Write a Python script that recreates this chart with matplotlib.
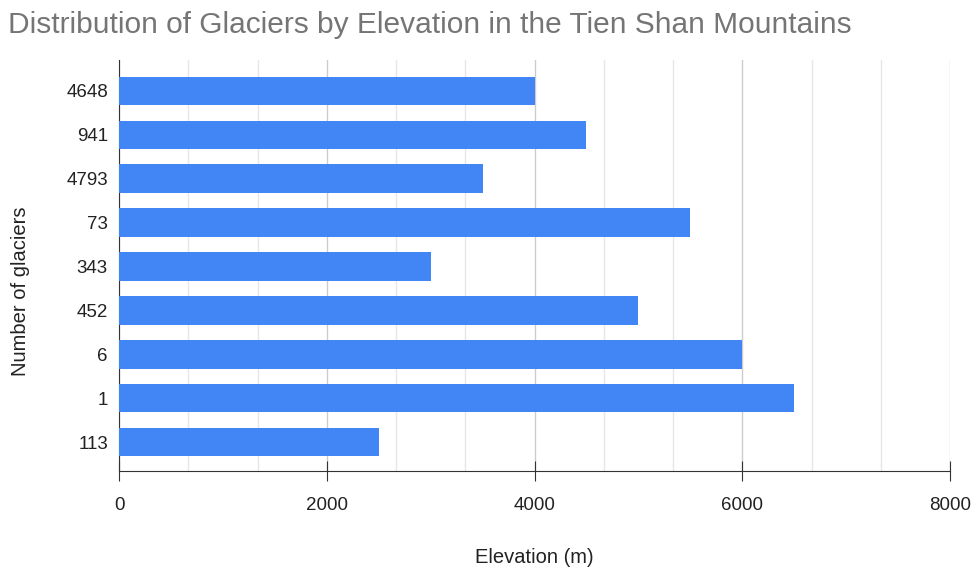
import numpy as np
import matplotlib.pyplot as plt
from matplotlib.ticker import MultipleLocator

plt.rcParams['font.family'] = ['Liberation Sans', 'DejaVu Sans']

glaciers = ["4648", "941", "4793", "73", "343", "452", "6", "1", "113"]
elevation = [4000, 4500, 3500, 5500, 3000, 5000, 6000, 6500, 2500]

fig = plt.figure(figsize=(9.74, 5.68), dpi=100)
ax = fig.add_axes([0.1222, 0.1708, 0.8532, 0.7232])

y = np.arange(len(glaciers))
ax.barh(y, elevation, height=0.65, color="#4285F4", zorder=3)

ax.set_xlim(0, 8000)
ax.set_ylim(len(glaciers) - 1 + 0.66, -0.70)
ax.set_yticks(y)
ax.set_yticklabels(glaciers)

ax.xaxis.set_major_locator(MultipleLocator(2000))
ax.xaxis.set_minor_locator(MultipleLocator(2000 / 3))
ax.grid(axis="x", which="major", color="#cccccc", linewidth=1, zorder=0)
ax.grid(axis="x", which="minor", color="#e6e6e6", linewidth=1, zorder=0)

for s in ["top", "right"]:
    ax.spines[s].set_visible(False)
ax.spines["left"].set_color("#333333")
ax.spines["bottom"].set_color("#333333")
ax.tick_params(axis="x", which="major", length=15, direction="inout", color="#333333",
               labelsize=13.5, labelcolor="#222222", pad=11.5)
ax.tick_params(axis="x", which="minor", length=0)
ax.tick_params(axis="y", length=0, labelsize=13.5, labelcolor="#222222", pad=8)

ax.set_xlabel("Elevation (m)", fontsize=14.5, color="#222222", labelpad=24)
ax.set_ylabel("Number of glaciers", fontsize=14.5, color="#222222", va="center")
ax.yaxis.set_label_coords(-0.119, 0.438)

fig.text(0.008, 0.942, "Distribution of Glaciers by Elevation in the Tien Shan Mountains",
         fontsize=21.5, color="#757575", ha="left", va="baseline")

fig.savefig("out.png", dpi=100)
